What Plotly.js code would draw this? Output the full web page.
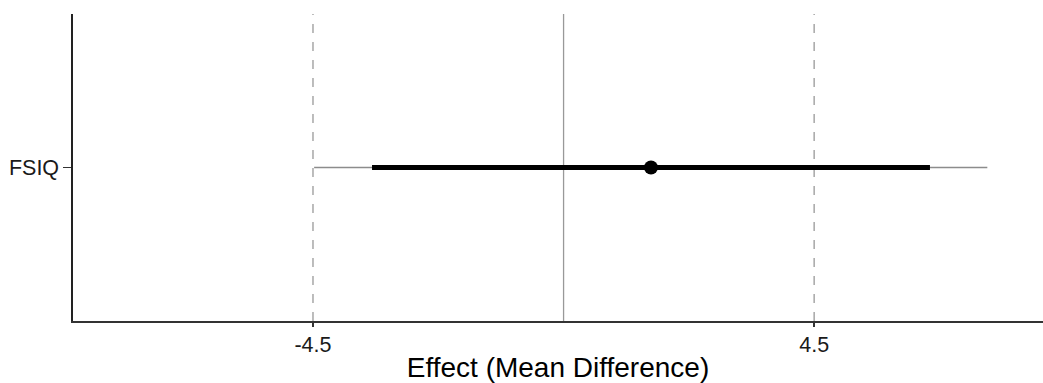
<!DOCTYPE html>
<html>
<head>
<meta charset="utf-8">
<script src="https://cdn.plot.ly/plotly-3.0.1.min.js"></script>
<style>html,body{margin:0;padding:0;background:#fff;}#chart{width:1043px;height:383px;}</style>
</head>
<body>
<div id="chart"></div>
<script>
const outcomes = ["FSIQ"];
const estimate = [1.57];
const innerLow = [-3.44];
const innerHigh = [6.58];
const outerLow = [-4.48];
const outerHigh = [7.61];
const refLines = [-4.5, 4.5];
const zeroLine = 0;
const tickVals = [-4.5, 4.5];
const tickText = ["-4.5", "4.5"];

const traces = [];
outcomes.forEach((o, i) => {
  traces.push({x: [outerLow[i], outerHigh[i]], y: [o, o], mode: 'lines', line: {color: '#8c8c8c', width: 1.5}, hoverinfo: 'skip', showlegend: false});
  traces.push({x: [innerLow[i], innerHigh[i]], y: [o, o], mode: 'lines', line: {color: '#000000', width: 5}, hoverinfo: 'skip', showlegend: false});
  traces.push({x: [estimate[i]], y: [o], mode: 'markers', marker: {color: '#000000', size: 14}, showlegend: false});
});

const shapes = refLines.map(v => ({type: 'line', xref: 'x', yref: 'paper', x0: v, x1: v, y0: 0, y1: 1, line: {color: '#999999', width: 1.3, dash: 'dash'}, layer: 'below'}));
shapes.push({type: 'line', xref: 'x', yref: 'paper', x0: zeroLine, x1: zeroLine, y0: 0, y1: 1, line: {color: '#999999', width: 1.3}, layer: 'below'});

const layout = {
  width: 1043, height: 383,
  margin: {l: 72.5, r: 0, t: 14, b: 61.5, pad: 0},
  paper_bgcolor: '#ffffff', plot_bgcolor: '#ffffff',
  font: {family: 'Liberation Sans, Arial, sans-serif', color: '#1a1a1a'},
  xaxis: {
    range: [-8.81, 8.61], tickvals: tickVals, ticktext: tickText,
    showgrid: false, zeroline: false, showline: true, linecolor: '#333333', linewidth: 1.6,
    ticks: 'outside', ticklen: 4, tickcolor: '#333333', tickwidth: 1.3,
    tickfont: {size: 21.5, color: '#1a1a1a'},
    title: {text: 'Effect (Mean Difference)', font: {size: 28, color: '#000000'}, standoff: 2}
  },
  yaxis: {
    type: 'category', range: [-1, 1],
    showgrid: false, zeroline: false, showline: true, linecolor: '#222222', linewidth: 1.6,
    ticks: 'outside', ticklen: 8, tickcolor: '#333333', tickwidth: 1.3,
    tickfont: {size: 21.5, color: '#1a1a1a'}
  },
  shapes: shapes
};
Plotly.newPlot('chart', traces, layout, {displayModeBar: false, staticPlot: true});
</script>
</body>
</html>
